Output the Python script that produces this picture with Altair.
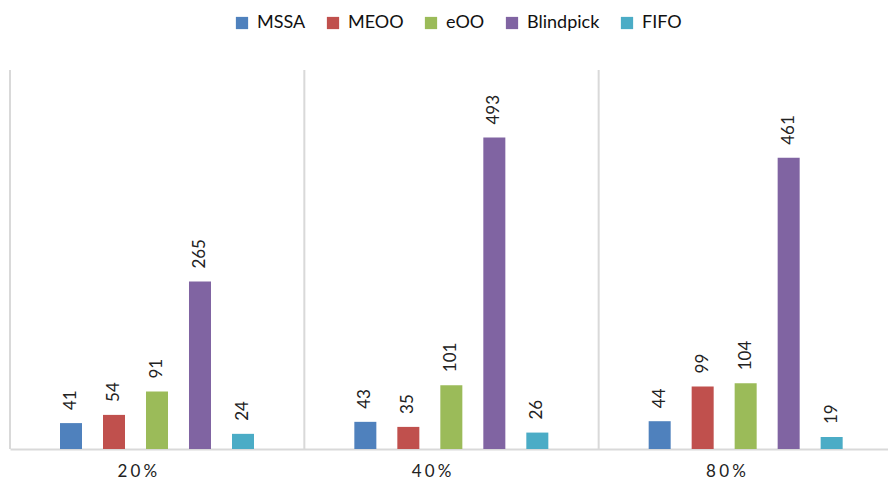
import altair as alt
import pandas as pd

# Grouped bar chart: five scheduling policies at three load levels
groups = ["20%", "40%", "80%"]
series = ["MSSA", "MEOO", "eOO", "Blindpick", "FIFO"]
colors = ["#4F81BD", "#C0504D", "#9BBB59", "#8064A2", "#4BACC6"]

mssa = [41, 43, 44]
meoo = [54, 35, 99]
eoo = [91, 101, 104]
blindpick = [265, 493, 461]
fifo = [24, 26, 19]

values = {"MSSA": mssa, "MEOO": meoo, "eOO": eoo, "Blindpick": blindpick, "FIFO": fifo}
rows = []
for s in series:
    for g, v in zip(groups, values[s]):
        rows.append({"group": g, "series": s, "value": v})
df = pd.DataFrame(rows)
sep = pd.DataFrame({"group": groups})

FONT = "Lato"
x_scale = alt.Scale(range=[0, 883], paddingInner=0, paddingOuter=0)

x_enc = alt.X(
    "group:N",
    sort=groups,
    scale=x_scale,
    axis=alt.Axis(
        title=None,
        ticks=False,
        labelAngle=0,
        labelFontSize=17,
        labelFont=FONT,
        labelColor="#222222",
        labelPadding=22,
        domainColor="#d9d9d9",
        domainWidth=2,
        labelExpr="join(split(datum.label, ''), '\u2009\u200a')",
    ),
)
x_off = alt.XOffset(
    "series:N",
    sort=series,
    scale=alt.Scale(range=[50, 244], paddingInner=0.488, paddingOuter=0),
)
y_enc = alt.Y("value:Q", scale=alt.Scale(domain=[0, 600]), axis=None)

bars = alt.Chart(df).mark_bar().encode(
    x=x_enc,
    xOffset=x_off,
    y=y_enc,
    color=alt.Color(
        "series:N",
        sort=series,
        scale=alt.Scale(domain=series, range=colors),
        legend=alt.Legend(
            title=None,
            orient="none",
            direction="horizontal",
            legendX=223,
            legendY=-56,
            symbolType="square",
            symbolSize=150,
            symbolStrokeWidth=0,
            labelFont=FONT,
            labelFontSize=18,
            labelColor="#111111",
            labelOffset=6,
            columnPadding=18,
        ),
    ),
)

labels = alt.Chart(df).mark_text(
    angle=270,
    align="left",
    baseline="middle",
    dx=13,
    font=FONT,
    fontSize=17,
    color="#222222",
).encode(
    x=alt.X("group:N", sort=groups),
    xOffset=x_off,
    y=y_enc,
    text="value:Q",
)

separators = alt.Chart(sep).mark_rule(color="#d9d9d9", strokeWidth=2).encode(
    x=alt.X("group:N", sort=groups, bandPosition=0),
)

chart = (
    alt.layer(separators, bars, labels)
    .properties(
        width=878,
        height=379,
        autosize=alt.AutoSizeParams(type="none"),
        padding={"left": 10, "top": 70, "right": 0, "bottom": 33},
        background="white",
    )
    .configure_view(stroke=None)
)

chart.save("out.html", embed_options={"renderer": "svg", "actions": False})
